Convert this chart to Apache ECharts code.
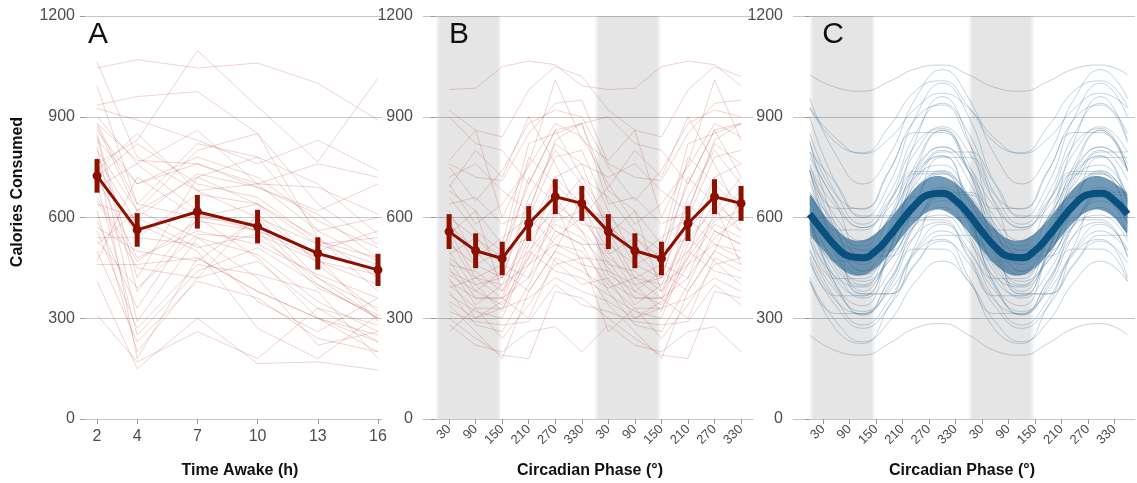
<!DOCTYPE html>
<html>
<head>
<meta charset="utf-8">
<script src="https://cdn.jsdelivr.net/npm/echarts@6/dist/echarts.min.js"></script>
<style>
  html, body { margin: 0; padding: 0; background: #fff; }
  #chart { width: 1137px; height: 483px; }
</style>
</head>
<body>
<div id="chart"></div>
<script>
// ---- panel A: calories by time awake ----
const hoursAwake = [2, 4, 7, 10, 13, 16];
const awakeMean = [724, 563, 617, 573, 493, 444];
const awakeErr = [50, 50, 50, 50, 48, 48];
const awakeSubjects = [
  [1045, 1070, 1045, 1060, 1000, 890],
  [760, 830, 1097, 930, 766, 1015],
  [1064, 780, 680, 600, 420, 300],
  [992, 640, 820, 780, 560, 470],
  [935, 960, 975, 850, 640, 520],
  [925, 890, 830, 760, 830, 740],
  [900, 760, 860, 700, 560, 600],
  [880, 770, 760, 690, 620, 700],
  [870, 620, 800, 850, 540, 380],
  [860, 700, 780, 720, 590, 510],
  [850, 420, 720, 640, 460, 320],
  [840, 380, 610, 560, 480, 290],
  [830, 700, 760, 700, 760, 720],
  [810, 290, 540, 490, 350, 260],
  [800, 620, 720, 780, 700, 550],
  [780, 180, 480, 380, 300, 230],
  [760, 540, 670, 640, 540, 420],
  [740, 850, 680, 700, 690, 610],
  [720, 480, 560, 520, 430, 360],
  [700, 250, 440, 510, 400, 300],
  [690, 760, 620, 560, 500, 560],
  [660, 470, 590, 560, 390, 310],
  [640, 600, 730, 690, 610, 480],
  [620, 200, 420, 470, 330, 230],
  [600, 600, 510, 550, 470, 430],
  [590, 330, 600, 480, 300, 200],
  [570, 500, 470, 600, 520, 540],
  [560, 270, 460, 430, 380, 180],
  [540, 540, 520, 350, 260, 360],
  [530, 390, 550, 540, 420, 330],
  [520, 620, 540, 420, 220, 260],
  [500, 230, 410, 360, 240, 200],
  [470, 720, 600, 580, 400, 300],
  [460, 460, 480, 380, 300, 250],
  [410, 150, 300, 165, 170, 146],
  [310, 170, 260, 180, 330, 280],
  [880, 640, 600, 640, 520, 460],
  [780, 580, 500, 270, 180, 310],
  [650, 450, 420, 610, 470, 400],
  [720, 820, 700, 660, 530, 480]
];

// ---- panel B: calories by circadian phase bin (plotted twice) ----
const phaseBins = [30, 90, 150, 210, 270, 330];
const phaseMean = [558, 501, 478, 582, 662, 642];
const phaseErr = [52, 52, 50, 52, 52, 52];
const phaseSubjects = [
  [981, 985, 1049, 1066, 1055, 992],
  [920, 860, 840, 980, 1050, 1020],
  [900, 820, 800, 700, 860, 880],
  [760, 720, 710, 850, 940, 950],
  [770, 860, 600, 760, 1010, 830],
  [750, 650, 740, 880, 920, 900],
  [700, 580, 640, 750, 880, 840],
  [690, 800, 720, 900, 760, 600],
  [680, 620, 520, 820, 850, 880],
  [660, 560, 500, 700, 860, 720],
  [640, 660, 580, 620, 830, 880],
  [620, 480, 540, 600, 780, 800],
  [600, 540, 480, 780, 700, 620],
  [590, 460, 500, 540, 620, 720],
  [580, 500, 420, 660, 800, 700],
  [560, 420, 460, 720, 640, 580],
  [550, 620, 380, 560, 720, 760],
  [540, 400, 420, 500, 600, 680],
  [520, 460, 420, 640, 560, 520],
  [500, 380, 340, 480, 720, 640],
  [490, 540, 460, 420, 540, 600],
  [480, 420, 400, 560, 660, 560],
  [470, 360, 360, 600, 520, 480],
  [460, 440, 380, 480, 590, 620],
  [450, 340, 400, 460, 580, 540],
  [440, 400, 320, 520, 640, 460],
  [430, 380, 440, 380, 500, 660],
  [420, 300, 350, 540, 470, 400],
  [410, 360, 360, 420, 620, 560],
  [400, 330, 330, 460, 520, 500],
  [390, 420, 360, 300, 480, 440],
  [380, 280, 260, 400, 560, 520],
  [370, 320, 300, 500, 440, 420],
  [350, 300, 330, 360, 420, 380],
  [340, 260, 180, 380, 500, 460],
  [320, 290, 280, 290, 400, 340],
  [300, 240, 190, 180, 380, 360],
  [280, 220, 200, 260, 275, 200],
  [260, 330, 240, 340, 460, 480],
  [720, 760, 680, 620, 820, 760]
];

// ---- panel C: fitted sinusoids, sampled every 60 deg over one cycle ----
const fitPhases = [0, 60, 120, 180, 240, 300];
const fitSubjects = [
  [1025, 987, 976, 1005, 1043, 1054],
  [955, 785, 700, 785, 955, 1040],
  [925, 835, 790, 835, 925, 970],
  [900, 700, 600, 700, 900, 1000],
  [822, 666, 625, 738, 894, 935],
  [850, 670, 580, 670, 850, 940],
  [740, 627, 627, 740, 853, 853],
  [795, 645, 570, 645, 795, 870],
  [795, 700, 605, 605, 700, 795],
  [737, 562, 515, 643, 818, 865],
  [740, 600, 530, 600, 740, 810],
  [760, 560, 460, 560, 760, 860],
  [650, 563, 563, 650, 737, 737],
  [779, 640, 501, 501, 640, 779],
  [664, 538, 504, 596, 722, 756],
  [710, 530, 440, 530, 710, 800],
  [670, 550, 490, 550, 670, 730],
  [600, 470, 470, 600, 730, 730],
  [642, 448, 396, 538, 732, 784],
  [675, 580, 485, 485, 580, 675],
  [655, 485, 400, 485, 655, 740],
  [625, 495, 430, 495, 625, 690],
  [599, 415, 366, 501, 685, 734],
  [540, 418, 418, 540, 662, 662],
  [590, 470, 410, 470, 590, 650],
  [668, 520, 372, 372, 520, 668],
  [585, 435, 360, 435, 585, 660],
  [529, 422, 393, 471, 578, 607],
  [580, 400, 310, 400, 580, 670],
  [480, 367, 367, 480, 593, 593],
  [550, 390, 310, 390, 550, 630],
  [547, 460, 373, 373, 460, 547],
  [486, 351, 314, 414, 549, 586],
  [500, 380, 320, 380, 500, 560],
  [505, 355, 280, 355, 505, 580],
  [410, 314, 314, 410, 506, 506],
  [465, 335, 270, 335, 465, 530],
  [422, 266, 225, 338, 494, 535],
  [250, 203, 190, 225, 271, 284],
  [740, 500, 380, 500, 740, 860],
  [620, 397, 337, 500, 723, 783],
  [830, 570, 440, 570, 830, 960],
  [410, 290, 230, 290, 410, 470],
  [750, 630, 570, 630, 750, 810],
  [929, 822, 793, 871, 978, 1007]
];
const fitMeanPhases = [0, 30, 60, 90, 120, 150, 180, 210, 240, 270, 300, 330];
const fitMean = [610, 559, 513, 484, 480, 501, 543, 593, 639, 668, 672, 651];
const fitBandHalf = [55, 54, 53, 52, 52, 52, 51, 50, 50, 50, 50, 52];

const phaseTicks = [30, 90, 150, 210, 270, 330, 390, 450, 510, 570, 630, 690];
const nightBands = [[0, 148], [360, 508]];

const FONT = "'Liberation Sans', Arial, sans-serif";
const RED = '#8b1000';
const SUBJ_RED = 'rgba(178,34,34,0.2)';
const SUBJ_BLUE = 'rgba(60,110,150,0.3)';

const chart = echarts.init(document.getElementById('chart'));

// two cycles helpers
const twoCycles = (xs, vs) => xs.map((x, i) => [x, vs[i]]).concat(xs.map((x, i) => [x + 360, vs[i]]));
const twoCyclesClosed = (xs, vs) => twoCycles(xs, vs).concat([[720, vs[0]]]);

function errorBar(params, api) {
  const x = api.value(0), y = api.value(1), e = api.value(2);
  const lo = api.coord([x, y - e]);
  const hi = api.coord([x, y + e]);
  return {
    type: 'line',
    shape: { x1: lo[0], y1: lo[1], x2: hi[0], y2: hi[1] },
    style: { stroke: RED, lineWidth: 5 }
  };
}

// confidence band of the mean fit in panel C
const bandUpper = twoCyclesClosed(fitMeanPhases, fitMean.map((m, i) => m + fitBandHalf[i]));
const bandLower = twoCyclesClosed(fitMeanPhases, fitMean.map((m, i) => m - fitBandHalf[i]));
function bandPolygon(params, api) {
  const up = bandUpper.map(p => api.coord(p));
  const lo = bandLower.map(p => api.coord(p)).reverse();
  const x0 = up[0][0], x1 = up[up.length - 1][0];
  return {
    type: 'polygon',
    shape: { points: up.concat(lo), smooth: 0.35 },
    style: { fill: 'rgba(47,106,147,0.68)' },
    clipPath: { type: 'rect', shape: { x: x0, y: 0, width: x1 - x0, height: 483 } }
  };
}

const grids = [
  { left: 85, top: 16, width: 297, height: 403 },
  { left: 423, top: 16, width: 330, height: 403 },
  { left: 793, top: 16, width: 342, height: 403 }
];

const yAxes = [0, 1, 2].map(i => ({
  gridIndex: i, type: 'value', min: 0, max: 1200, interval: 300,
  axisLine: { show: false },
  axisTick: { show: true, length: 5, lineStyle: { color: '#999' } },
  axisLabel: { fontSize: 16, color: '#4d4d4d', fontFamily: FONT, margin: 10, formatter: v => String(v) },
  splitLine: { lineStyle: { color: '#c6c6c6', width: 1 } }
}));

const phaseAxis = (i, min, max) => ({
  gridIndex: i, type: 'value', min: min, max: max,
  axisLine: { show: true, lineStyle: { color: '#c6c6c6' } },
  axisTick: { show: true, length: 5, customValues: phaseTicks, lineStyle: { color: '#999' } },
  axisLabel: {
    customValues: phaseTicks, rotate: 45, fontSize: 13, color: '#4d4d4d', fontFamily: FONT, margin: 8,
    formatter: v => String(v % 360)
  },
  splitLine: { show: false }
});

const xAxes = [
  {
    gridIndex: 0, type: 'value', min: 1.4, max: 16.2,
    axisLine: { show: true, lineStyle: { color: '#c6c6c6' } },
    axisTick: { show: true, length: 5, customValues: hoursAwake, lineStyle: { color: '#999' } },
    axisLabel: { customValues: hoursAwake, fontSize: 16, color: '#4d4d4d', fontFamily: FONT, margin: 10 },
    splitLine: { show: false }
  },
  phaseAxis(1, -29, 717),
  phaseAxis(2, -38, 737)
];

const bandArea = {
  silent: true,
  itemStyle: {
    color: new echarts.graphic.LinearGradient(0, 0, 1, 0, [
      { offset: 0, color: 'rgba(0,0,0,0.02)' },
      { offset: 0.06, color: 'rgba(0,0,0,0.1)' },
      { offset: 0.94, color: 'rgba(0,0,0,0.1)' },
      { offset: 1, color: 'rgba(0,0,0,0.02)' }
    ])
  },
  data: nightBands.map(b => [{ xAxis: b[0] }, { xAxis: b[1] }])
};

const series = [];

// A
awakeSubjects.forEach(s => series.push({
  type: 'line', xAxisIndex: 0, yAxisIndex: 0, z: 2, silent: true,
  data: hoursAwake.map((h, i) => [h, s[i]]),
  showSymbol: false, lineStyle: { color: SUBJ_RED, width: 1 }
}));
series.push({
  type: 'line', xAxisIndex: 0, yAxisIndex: 0, z: 4,
  data: hoursAwake.map((h, i) => [h, awakeMean[i]]),
  symbol: 'circle', symbolSize: 9, itemStyle: { color: RED },
  lineStyle: { color: RED, width: 3 }
});
series.push({
  type: 'custom', xAxisIndex: 0, yAxisIndex: 0, z: 5,
  renderItem: errorBar, encode: { x: 0, y: 1 },
  data: hoursAwake.map((h, i) => [h, awakeMean[i], awakeErr[i]])
});

// B
series.push({ type: 'line', xAxisIndex: 1, yAxisIndex: 1, z: 1, data: [], markArea: bandArea });
phaseSubjects.forEach(s => series.push({
  type: 'line', xAxisIndex: 1, yAxisIndex: 1, z: 2, silent: true,
  data: twoCycles(phaseBins, s),
  showSymbol: false, lineStyle: { color: SUBJ_RED, width: 1 }
}));
series.push({
  type: 'line', xAxisIndex: 1, yAxisIndex: 1, z: 4,
  data: twoCycles(phaseBins, phaseMean),
  symbol: 'circle', symbolSize: 9, itemStyle: { color: RED },
  lineStyle: { color: RED, width: 3 }
});
series.push({
  type: 'custom', xAxisIndex: 1, yAxisIndex: 1, z: 5,
  renderItem: errorBar, encode: { x: 0, y: 1 },
  data: twoCycles(phaseBins, phaseMean).map((p, i) => [p[0], p[1], phaseErr[i % 6]])
});

// C
series.push({ type: 'line', xAxisIndex: 2, yAxisIndex: 2, z: 1, data: [], markArea: bandArea });
fitSubjects.forEach(s => series.push({
  type: 'line', xAxisIndex: 2, yAxisIndex: 2, z: 2, silent: true, smooth: 0.5,
  data: twoCyclesClosed(fitPhases, s),
  showSymbol: false, lineStyle: { color: SUBJ_BLUE, width: 1 }
}));
series.push({
  type: 'custom', xAxisIndex: 2, yAxisIndex: 2, z: 3, silent: true,
  renderItem: bandPolygon, encode: { x: 0, y: 1 },
  data: [[0, fitMean[0]]]
});
series.push({
  type: 'line', xAxisIndex: 2, yAxisIndex: 2, z: 4, smooth: 0.5,
  data: twoCyclesClosed(fitMeanPhases, fitMean),
  showSymbol: false, lineStyle: { color: '#08507e', width: 7 }
});

const text = (x, y, str, font, extra) => Object.assign({
  type: 'text', x: x, y: y, silent: true,
  style: { text: str, font: font, fill: '#111', align: 'center', verticalAlign: 'middle' }
}, extra || {});

chart.setOption({
  animation: false,
  grid: grids,
  xAxis: xAxes,
  yAxis: yAxes,
  series: series,
  graphic: [
    text(18, 192, 'Calories Consumed', 'bold 16px ' + FONT, { rotation: Math.PI / 2 }),
    text(240, 471, 'Time Awake (h)', 'bold 16px ' + FONT),
    text(590, 471, 'Circadian Phase (°)', 'bold 16px ' + FONT),
    text(962, 471, 'Circadian Phase (°)', 'bold 16px ' + FONT),
    text(98, 35, 'A', '30px ' + FONT),
    text(459, 35, 'B', '30px ' + FONT),
    text(833, 35, 'C', '30px ' + FONT)
  ]
});
</script>
</body>
</html>
